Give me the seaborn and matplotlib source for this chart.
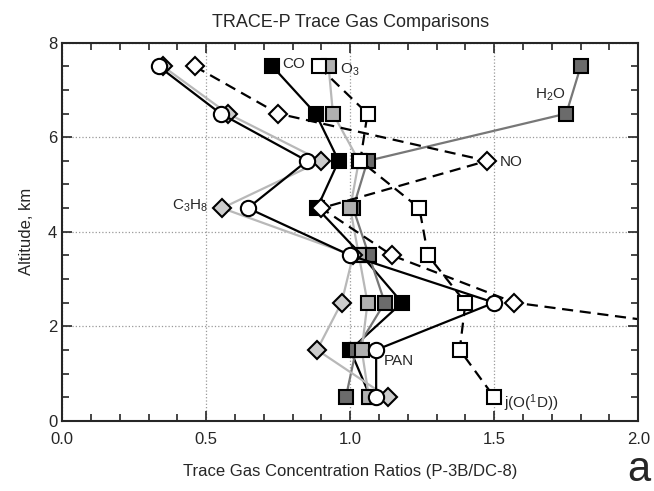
import matplotlib
matplotlib.use("Agg")
import matplotlib.pyplot as plt
import seaborn as sns
from matplotlib.ticker import MultipleLocator

# altitude bins (km)
alt = [7.5, 6.5, 5.5, 4.5, 3.5, 2.5, 1.5, 0.5]

# P-3B / DC-8 ratios
co = [0.73, 0.88, 0.96, 0.885, 1.04, 1.18, 1.0, 1.07]
h2o = [1.80, 1.75, 1.06, 1.01, 1.065, 1.12, 1.02, 0.985]
o3 = [0.925, 0.94, 1.03, 1.0, 1.03, 1.06, 1.04, 1.065]
jo1d = [0.89, 1.06, 1.035, 1.24, 1.27, 1.40, 1.38, 1.50]
no_alt = [7.5, 6.5, 5.5, 4.5, 3.5, 2.5, 1.5]
no = [0.46, 0.75, 1.475, 0.90, 1.145, 1.57, 2.8]
c3h8 = [0.35, 0.575, 0.90, 0.555, 1.01, 0.97, 0.885, 1.13]
pan = [0.335, 0.55, 0.85, 0.645, 1.0, 1.50, 1.09, 1.09]

sns.set_style("ticks")
plt.rcParams['font.family'] = ['Liberation Sans', 'DejaVu Sans']
plt.rcParams['mathtext.fontset'] = 'custom'
plt.rcParams['mathtext.rm'] = 'Liberation Sans'
plt.rcParams['mathtext.default'] = 'rm'

fig = plt.figure(figsize=(6.54, 4.91), dpi=100)
ax = fig.add_axes([0.095, 0.143, 0.881, 0.770])

ms = 10
lw = 1.6


def draw(x, y, marker, face, line, dashed=False, size=ms):
    extra = {"dashes": (5, 3)} if dashed else {}
    sns.lineplot(x=x, y=y, ax=ax, sort=False, estimator=None, color=line,
                 linewidth=lw, marker=marker, markersize=size,
                 markerfacecolor=face, markeredgecolor="black",
                 markeredgewidth=1.5, **extra)


draw(co, alt, "s", "black", "black")
draw(h2o, alt, "s", "#6b6b6b", "#777777")
draw(o3, alt, "s", "#b0b0b0", "#b8b8b8")
draw(jo1d, alt, "s", "white", "black", dashed=True)
draw(no, no_alt, "D", "white", "black", dashed=True, size=9)
draw(c3h8, alt, "D", "#cccccc", "#b8b8b8", size=9)
draw(pan, alt, "o", "white", "black", size=11)

ax.set_xlim(0, 2.0)
ax.set_ylim(0, 8)
ax.xaxis.set_major_locator(MultipleLocator(0.5))
ax.xaxis.set_minor_locator(MultipleLocator(0.1))
ax.yaxis.set_major_locator(MultipleLocator(2))
ax.yaxis.set_minor_locator(MultipleLocator(0.5))
ax.xaxis.set_major_formatter(matplotlib.ticker.FormatStrFormatter("%.1f"))
ax.tick_params(which="both", direction="in", top=True, right=True,
               labelsize=12, width=1.2)
ax.tick_params(which="major", length=7)
ax.tick_params(which="minor", length=5)
ax.tick_params(axis="x", pad=8)
ax.grid(True, which="major", linestyle=":", color="#999999", linewidth=0.9)
for s in ax.spines.values():
    s.set_linewidth(1.5)
    s.set_visible(True)

ax.set_title("TRACE-P Trace Gas Comparisons", fontsize=13, pad=11)
ax.set_xlabel("Trace Gas Concentration Ratios (P-3B/DC-8)", fontsize=12, labelpad=12)
ax.set_ylabel("Altitude, km", fontsize=12, labelpad=10)

# series labels
fs = 11
ax.text(0.765, 7.55, "CO", fontsize=fs, va="center")
ax.text(0.965, 7.42, "O$_3$", fontsize=fs, va="center")
ax.text(1.64, 6.9, "H$_2$O", fontsize=fs, va="center")
ax.text(1.52, 5.48, "NO", fontsize=fs, va="center")
ax.text(0.38, 4.55, "C$_3$H$_8$", fontsize=fs, va="center")
ax.text(1.115, 1.27, "PAN", fontsize=fs, va="center")
ax.text(1.535, 0.38, "j(O($^1$D))", fontsize=fs, va="center")

fig.text(0.994, 0.002, "a", fontsize=30, ha="right", va="bottom")

fig.savefig("out.png", dpi=100)
